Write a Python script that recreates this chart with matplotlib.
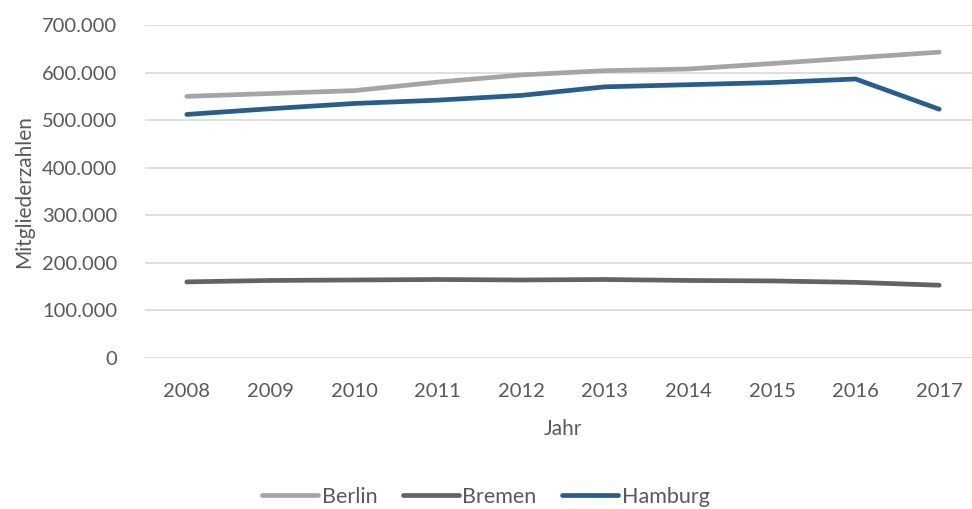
import matplotlib
matplotlib.use("Agg")
import matplotlib.pyplot as plt
from matplotlib.ticker import FuncFormatter

plt.rcParams['font.family'] = ['Lato', 'DejaVu Sans']

jahre = ['2008', '2009', '2010', '2011', '2012', '2013', '2014', '2015', '2016', '2017']
berlin = [550000, 556000, 562000, 580000, 595000, 604000, 607500, 619000, 631000, 643000]
bremen = [160000, 163000, 164000, 165000, 164000, 165000, 163000, 162000, 159000, 153000]
hamburg = [512000, 524000, 535000, 542000, 552000, 570000, 574500, 579000, 586500, 523000]

text_col = '#595959'

fig = plt.figure(figsize=(9.72, 5.09), dpi=100)
ax = fig.add_axes([145/972, 1 - 358/509, 836/972, 333/509])

x = range(len(jahre))
ax.plot(x, berlin, color='#A5A5A5', lw=3.4, solid_capstyle='round', label='Berlin')
ax.plot(x, bremen, color='#636363', lw=3.4, solid_capstyle='round', label='Bremen')
ax.plot(x, hamburg, color='#255E91', lw=3.4, solid_capstyle='round', label='Hamburg')

ax.set_xlim(-0.5, len(jahre) - 0.5)
ax.set_ylim(0, 700000)
ax.set_yticks(range(0, 700001, 100000))
ax.yaxis.set_major_formatter(FuncFormatter(lambda v, p: f'{int(v):,}'.replace(',', '.')))
ax.set_xticks(list(x))
ax.set_xticklabels(jahre)

ax.grid(axis='y', color='#D9D9D9', lw=1.2)
ax.set_axisbelow(True)
for s in ax.spines.values():
    s.set_visible(False)
ax.tick_params(length=0, labelsize=14.5, colors=text_col)
ax.tick_params(axis='x', pad=18)
ax.tick_params(axis='y', pad=20)

ax.set_xlabel('Jahr', fontsize=15, color=text_col, labelpad=14)
ax.set_ylabel('Mitgliederzahlen', fontsize=15, color=text_col, labelpad=6)

fig.legend(loc='center', bbox_to_anchor=(0.5, 1 - 497/509), ncol=3, frameon=False,
           fontsize=15.5, labelcolor=text_col, handlelength=2.6, handletextpad=0.15,
           columnspacing=1.2)

fig.savefig('out.png', dpi=100)
